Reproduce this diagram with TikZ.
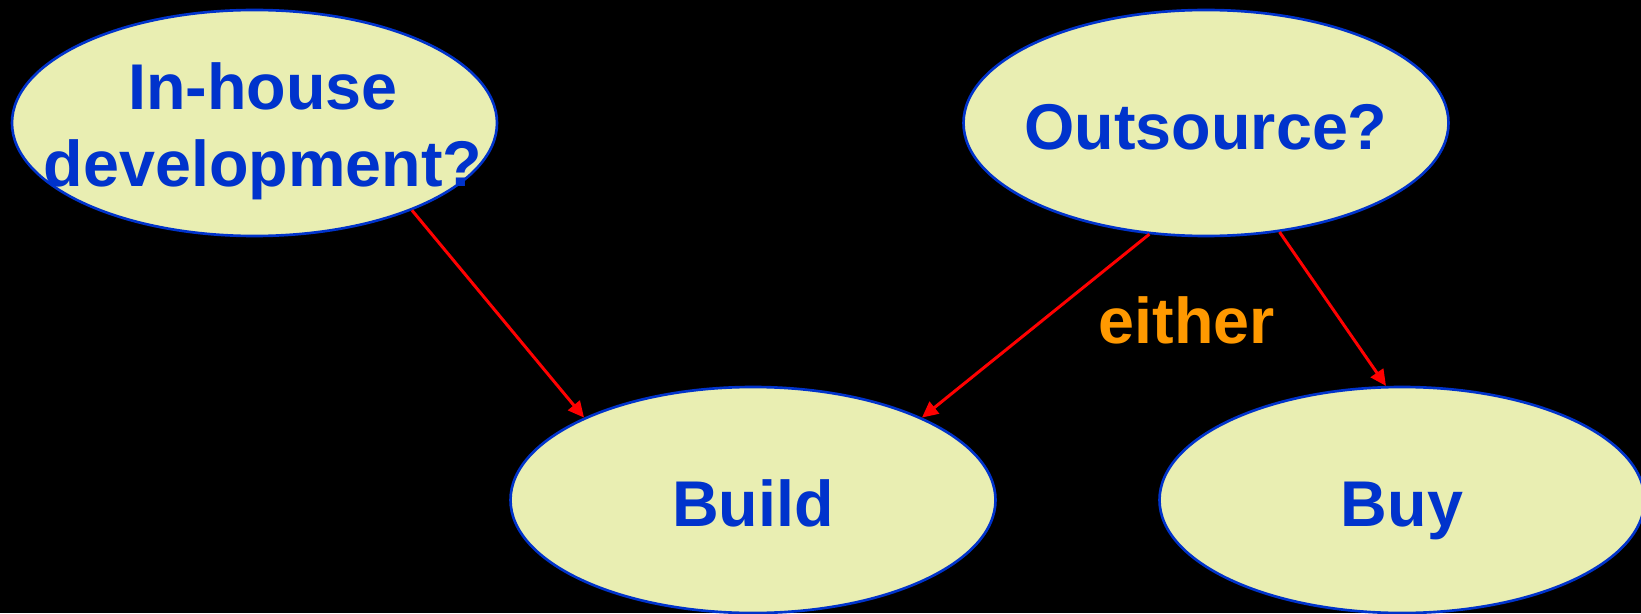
\documentclass[tikz,border=0pt]{standalone}
\usepackage{fontspec}
\setmainfont{Liberation Sans}
\usetikzlibrary{shapes.geometric,arrows.meta}

\definecolor{bubble}{HTML}{E9EEB2}
\definecolor{inkblue}{HTML}{0033CC}
\definecolor{noteorange}{HTML}{FF9900}

\begin{document}
\begin{tikzpicture}[
    bigtext/.style={font=\fontsize{36.8}{44}\selectfont\bfseries},
    choice/.style={ellipse, draw=inkblue, line width=1.5pt, fill=bubble,
      minimum width=9.7cm, minimum height=4.52cm, inner sep=0pt,
      text=inkblue, bigtext, text height=1.06cm, text depth=0pt},
    link/.style={red, line width=1.7pt, -{Triangle[length=0.32cm,width=0.3cm]}}
  ]
    % Background
    \fill[black] (0,0) rectangle (32.82,12.26);
    \useasboundingbox (0,0) rectangle (32.82,12.26);

    % Options (the text may run past the ellipse)
    \node[choice, text height=2.56cm] (inhouse) at (5.09,9.80)
      {\makebox[0pt]{\hspace{0.34cm}\begin{tabular}[b]{@{}c@{}}In-house\\development?\end{tabular}}};
    \node[choice] (outsource) at (24.12,9.80) {\makebox[0pt]{Outsource?}};
    \node[choice] (build) at (15.06,2.26) {\makebox[0pt]{Build}};
    \node[choice] (buy) at (28.04,2.26) {\makebox[0pt]{Buy}};

    % Links
    \draw[link] (inhouse.-29) -- (build.154);
    \draw[link] (outsource.-117) -- (build.26);
    \draw[link] (outsource.-56) -- (buy.98);
    \node[text=noteorange, bigtext] (either) at (23.74,5.86) {either};
\end{tikzpicture}
\end{document}
